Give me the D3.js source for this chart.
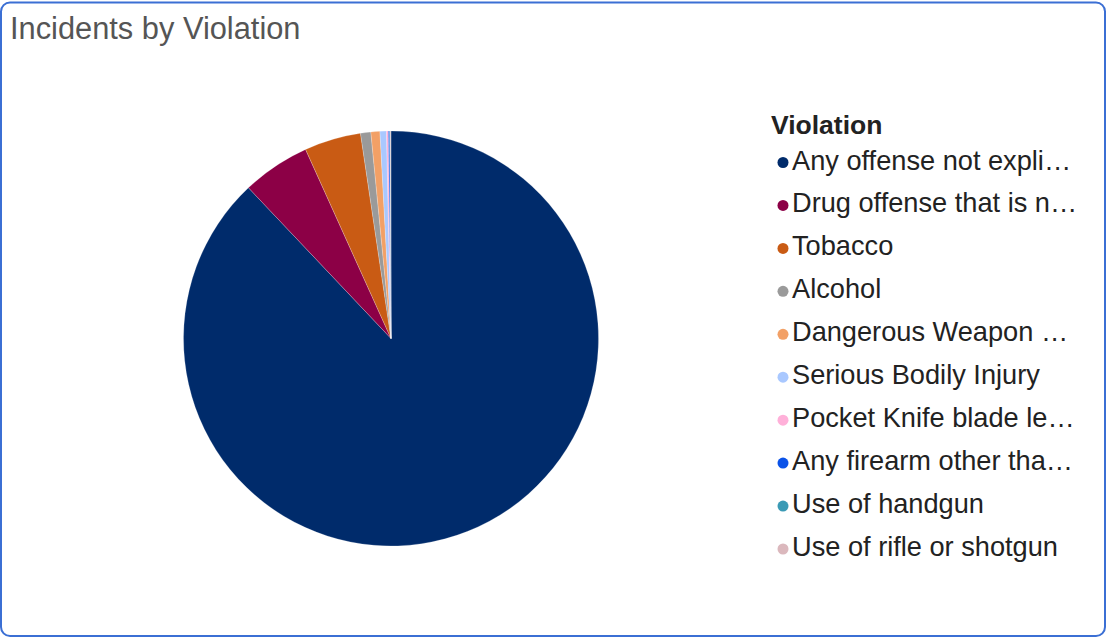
<!DOCTYPE html>
<html><head><meta charset="utf-8">
<script src="https://cdn.jsdelivr.net/npm/d3@7"></script>
<style>
html,body{margin:0;padding:0;background:#fff;}
svg{display:block;}
</style></head>
<body>
<svg id="chart" width="1107" height="638"></svg>
<script>
const categories = ["Any offense not expli…","Drug offense that is n…","Tobacco","Alcohol","Dangerous Weapon …","Serious Bodily Injury","Pocket Knife blade le…","Any firearm other tha…","Use of handgun","Use of rifle or shotgun"];
const values = [1758, 106, 88, 16, 14, 10, 3, 2, 1, 1];
const colors = ["#002b6b","#8c0046","#c95b14","#9a9a9a","#f2a066","#a9c8ff","#ffb0d9","#0a52e8","#3a9ab5","#dbb8bd"];
const title = "Incidents by Violation";
const legendTitle = "Violation";

const font = "'Liberation Sans',Arial,sans-serif";
const svg = d3.select("#chart");
svg.append("rect").attr("x",1).attr("y",2.5).attr("width",1104).attr("height",633.5)
  .attr("rx",9).attr("fill","#fff").attr("stroke","#3b6fd4").attr("stroke-width",2);

svg.append("text").attr("x",10).attr("y",38.5).text(title)
  .attr("font-family",font).attr("font-size",30.8).attr("fill","#555");

const data = categories.map((c,i)=>({c, v: values[i], col: colors[i]}));
const pie = d3.pie().value(d=>d.v).sort(null);
const arc = d3.arc().innerRadius(0).outerRadius(207.5);
const g = svg.append("g").attr("transform","translate(391,338.5)");
g.selectAll("path").data(pie(data)).join("path")
  .attr("d",arc).attr("fill",d=>d.data.col)
  .attr("stroke","#ffffff").attr("stroke-opacity",0.35).attr("stroke-width",0.6);

const leg = svg.append("g");
leg.append("text").attr("x",771).attr("y",134).text(legendTitle)
  .attr("font-family",font).attr("font-size",26.5)
  .attr("font-weight","bold").attr("fill","#222");
const y = d3.scalePoint().domain(categories).range([169.5,556]);
const items = leg.selectAll("g.item").data(data).join("g").attr("class","item")
  .attr("transform",d=>`translate(0,${y(d.c)})`);
items.append("circle").attr("cx",783).attr("cy",-7).attr("r",5.5).attr("fill",d=>d.col);
items.append("text").attr("x",792).attr("y",0).text(d=>d.c)
  .attr("font-family",font).attr("font-size",27.2).attr("fill","#222");
</script>
</body></html>
